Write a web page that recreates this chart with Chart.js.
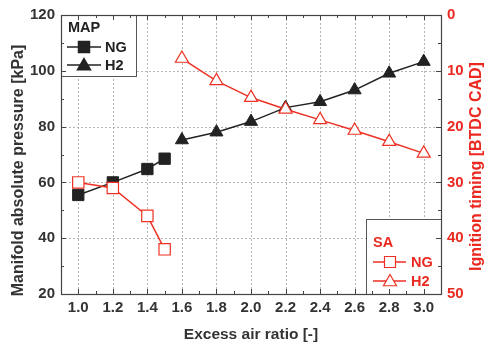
<!DOCTYPE html>
<html><head><meta charset="utf-8">
<script src="https://cdn.jsdelivr.net/npm/chart.js@4/dist/chart.umd.min.js"></script>
<style>html,body{margin:0;padding:0;background:#fff}#wrap{width:485px;height:346px}</style>
</head><body><div id="wrap"><canvas id="c" width="485" height="346"></canvas></div>
<script>
const airRatioNG = [1.0, 1.2, 1.4, 1.5];
const airRatioH2 = [1.6, 1.8, 2.0, 2.2, 2.4, 2.6, 2.8, 3.0];
const mapNG = [55.5, 60.0, 64.8, 68.5];
const mapH2 = [75.2, 78.0, 81.8, 86.8, 88.9, 93.1, 99.1, 103.3];
const saNG = [30.0, 31.0, 36.0, 42.0];
const saH2 = [7.8, 11.8, 14.8, 16.9, 18.8, 20.7, 22.7, 24.8];
const xTicks = [1.0, 1.2, 1.4, 1.6, 1.8, 2.0, 2.2, 2.4, 2.6, 2.8, 3.0];
const xMinor = [1.1, 1.3, 1.5, 1.7, 1.9, 2.1, 2.3, 2.5, 2.7, 2.9];
const mapTicks = [20, 40, 60, 80, 100, 120];
const mapMinor = [30, 50, 70, 90, 110];
const saTicks = [0, 10, 20, 30, 40, 50];
const saMinor = [5, 15, 25, 35, 45];

const RED = '#ee3124';
const RED_TXT = '#ea2a20';
const DARK = '#222';
const TXT = '#333';
const FONT = '"Liberation Sans", Arial, sans-serif';

function pts(xs, ys) { return xs.map((x, i) => ({x: x, y: ys[i]})); }

function square(ctx, x, y, s, fill, stroke) {
  ctx.beginPath(); ctx.rect(x - s / 2, y - s / 2, s, s);
  ctx.fillStyle = fill; ctx.fill(); ctx.strokeStyle = stroke; ctx.stroke();
}
function tri(ctx, x, y, r, fill, stroke) {
  ctx.beginPath();
  for (let k = 0; k < 3; k++) {
    const a = -Math.PI / 2 + k * 2 * Math.PI / 3;
    const px = x + Math.cos(a) * r, py = y + Math.sin(a) * r;
    k ? ctx.lineTo(px, py) : ctx.moveTo(px, py);
  }
  ctx.closePath(); ctx.fillStyle = fill; ctx.fill(); ctx.strokeStyle = stroke; ctx.stroke();
}

const decor = {
  id: 'decor',
  beforeDatasetsDraw(chart) {
    const {ctx, chartArea: a, scales} = chart;
    const sx = scales.x, sy = scales.y;
    ctx.save();
    ctx.strokeStyle = '#b5b5b5'; ctx.lineWidth = 1; ctx.setLineDash([2, 2]);
    xTicks.forEach(v => { const p = Math.round(sx.getPixelForValue(v)) + 0.5;
      ctx.beginPath(); ctx.moveTo(p, a.top); ctx.lineTo(p, a.bottom); ctx.stroke(); });
    mapTicks.forEach(v => { const p = Math.round(sy.getPixelForValue(v)) + 0.5;
      ctx.beginPath(); ctx.moveTo(a.left, p); ctx.lineTo(a.right, p); ctx.stroke(); });
    ctx.setLineDash([]);
    const boxes = [[a.left, a.top, 75, 61], [a.right - 75, a.bottom - 75, 75, 75]];
    boxes.forEach(b => {
      ctx.fillStyle = '#fff'; ctx.fillRect(b[0], b[1], b[2], b[3]);
      ctx.strokeStyle = '#555'; ctx.lineWidth = 1;
      ctx.strokeRect(Math.round(b[0]) + 0.5, Math.round(b[1]) + 0.5, b[2], b[3]);
    });
    ctx.font = 'bold 14.5px ' + FONT; ctx.textBaseline = 'middle'; ctx.textAlign = 'left';
    let L = a.left;
    ctx.fillStyle = DARK; ctx.fillText('MAP', L + 7, a.top + 13);
    ctx.lineWidth = 1.5; ctx.strokeStyle = DARK;
    [[a.top + 32, 'NG', 's'], [a.top + 50, 'H2', 't']].forEach(r => {
      ctx.beginPath(); ctx.moveTo(L + 6, r[0]); ctx.lineTo(L + 40, r[0]); ctx.stroke();
      if (r[2] === 's') square(ctx, L + 23, r[0], 11, DARK, DARK); else tri(ctx, L + 23, r[0] + 1, 7.5, DARK, DARK);
      ctx.fillStyle = DARK; ctx.fillText(r[1], L + 44, r[0] + 1);
    });
    L = a.right - 75; const T = a.bottom - 75;
    ctx.fillStyle = RED_TXT; ctx.fillText('SA', L + 7, T + 24);
    ctx.strokeStyle = RED;
    [[T + 43, 'NG', 's'], [T + 62, 'H2', 't']].forEach(r => {
      ctx.lineWidth = 1.5;
      ctx.beginPath(); ctx.moveTo(L + 7, r[0]); ctx.lineTo(L + 40, r[0]); ctx.stroke();
      ctx.lineWidth = 1.2;
      if (r[2] === 's') square(ctx, L + 24, r[0], 11, '#fff', RED); else tri(ctx, L + 24, r[0] + 1, 7.5, '#fff', RED);
      ctx.fillStyle = RED_TXT; ctx.fillText(r[1], L + 45, r[0] + 1);
    });
    ctx.restore();
  },
  afterDraw(chart) {
    const {ctx, chartArea: a, scales} = chart;
    const sx = scales.x, sy = scales.y, sy2 = scales.y2;
    ctx.save();
    ctx.strokeStyle = '#444'; ctx.lineWidth = 1.2;
    ctx.strokeRect(Math.round(a.left) + 0.5, Math.round(a.top) + 0.5, Math.round(a.right - a.left), Math.round(a.bottom - a.top));
    ctx.lineWidth = 1;
    const xt = (vals, len) => vals.forEach(v => { const p = Math.round(sx.getPixelForValue(v)) + 0.5;
      ctx.beginPath(); ctx.moveTo(p, a.bottom); ctx.lineTo(p, a.bottom - len);
      ctx.moveTo(p, a.top); ctx.lineTo(p, a.top + len); ctx.stroke(); });
    xt(xTicks, 5); xt(xMinor, 3);
    const yt = (sc, vals, len, left) => vals.forEach(v => { const p = Math.round(sc.getPixelForValue(v)) + 0.5;
      const e = left ? a.left : a.right; const d = left ? len : -len;
      ctx.beginPath(); ctx.moveTo(e, p); ctx.lineTo(e + d, p); ctx.stroke(); });
    yt(sy, mapTicks, 5, true); yt(sy, mapMinor, 3, true);
    yt(sy2, saTicks, 5, false); yt(sy2, saMinor, 3, false);
    ctx.textAlign = 'center'; ctx.textBaseline = 'middle';
    ctx.fillStyle = TXT;
    ctx.font = 'bold 15.5px ' + FONT;
    ctx.fillText('Excess air ratio [-]', (a.left + a.right) / 2, 335);
    const cy = (a.top + a.bottom) / 2;
    ctx.font = 'bold 16px ' + FONT;
    ctx.save(); ctx.translate(19, cy + 16); ctx.rotate(-Math.PI / 2);
    ctx.fillText('Manifold absolute pressure [kPa]', 0, 0); ctx.restore();
    ctx.save(); ctx.translate(477, cy + 12); ctx.rotate(-Math.PI / 2);
    ctx.fillStyle = RED_TXT; ctx.fillText('Ignition timing [BTDC CAD]', 0, 0); ctx.restore();
    ctx.restore();
  }
};

new Chart(document.getElementById('c'), {
  type: 'line',
  data: {
    datasets: [
      {label: 'SA NG', yAxisID: 'y2', order: 0, data: pts(airRatioNG, saNG), borderColor: RED, backgroundColor: '#fff',
       pointStyle: 'rect', pointRadius: 8, pointBorderWidth: 1.2, borderWidth: 1.5, pointBorderColor: RED, pointBackgroundColor: '#fff'},
      {label: 'SA H2', yAxisID: 'y2', order: 0, data: pts(airRatioH2, saH2), borderColor: RED, backgroundColor: '#fff',
       pointStyle: 'triangle', pointRadius: 7.5, pointBorderWidth: 1.2, borderWidth: 1.5, pointBorderColor: RED, pointBackgroundColor: '#fff'},
      {label: 'MAP NG', yAxisID: 'y', order: 1, data: pts(airRatioNG, mapNG), borderColor: DARK, backgroundColor: DARK,
       pointStyle: 'rect', pointRadius: 8, pointBorderWidth: 1, borderWidth: 1.5, pointBackgroundColor: DARK},
      {label: 'MAP H2', yAxisID: 'y', order: 1, data: pts(airRatioH2, mapH2), borderColor: DARK, backgroundColor: DARK,
       pointStyle: 'triangle', pointRadius: 7.5, pointBorderWidth: 1, borderWidth: 1.5, pointBackgroundColor: DARK}
    ]
  },
  options: {
    responsive: false, animation: false, devicePixelRatio: 1,
    layout: {padding: {top: 15, left: 0, right: 0, bottom: 0}},
    plugins: {legend: {display: false}, tooltip: {enabled: false}},
    elements: {line: {tension: 0}},
    scales: {
      x: {type: 'linear', min: 0.9, max: 3.1,
        afterBuildTicks: s => { s.ticks = xTicks.map(v => ({value: v})); },
        afterFit: s => { s.height = 52; },
        grid: {display: false, drawTicks: false}, border: {display: false},
        ticks: {font: {family: FONT, size: 15, weight: 'bold'}, color: TXT, padding: 5, maxRotation: 0, autoSkip: false,
          callback: v => Number(v).toFixed(1)}},
      y: {type: 'linear', position: 'left', min: 20, max: 120,
        afterBuildTicks: s => { s.ticks = mapTicks.map(v => ({value: v})); },
        afterFit: s => { s.width = 61; },
        grid: {display: false, drawTicks: false}, border: {display: false},
        ticks: {font: {family: FONT, size: 15, weight: 'bold'}, color: TXT, padding: 6}},
      y2: {type: 'linear', position: 'right', min: 0, max: 50, reverse: true,
        afterBuildTicks: s => { s.ticks = saTicks.map(v => ({value: v})); },
        afterFit: s => { s.width = 44; },
        grid: {display: false, drawTicks: false}, border: {display: false},
        ticks: {font: {family: FONT, size: 15, weight: 'bold'}, color: RED_TXT, padding: 6}}
    }
  },
  plugins: [decor]
});
</script></body></html>
